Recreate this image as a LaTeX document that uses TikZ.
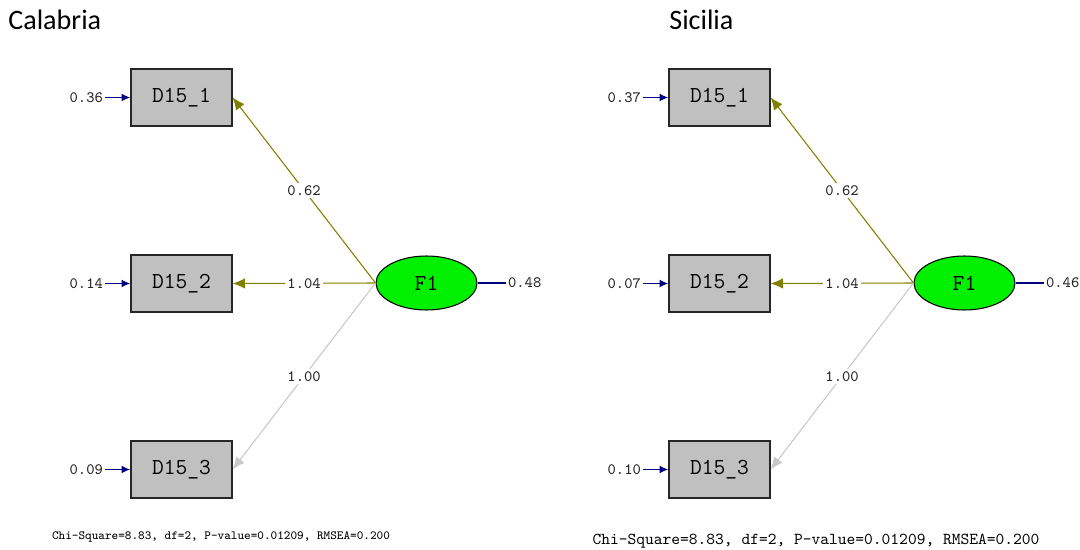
\documentclass[tikz,border=0pt]{standalone}
\usepackage{fontspec}
\setmainfont{Carlito}
\usetikzlibrary{arrows.meta,shapes.geometric}

\definecolor{obsgray}{RGB}{192,192,192}
\definecolor{latgreen}{RGB}{0,240,0}
\definecolor{loadolive}{RGB}{128,128,0}
\definecolor{fixgray}{RGB}{200,200,200}
\definecolor{errnavy}{RGB}{0,0,128}

\tikzset{
  obs/.style={draw=black!85, fill=obsgray, line width=0.8pt,
    minimum width=2.02cm, minimum height=1.14cm, inner sep=0pt,
    font=\ttfamily\fontsize{13}{14}\selectfont},
  lat/.style={ellipse, draw=black, fill=latgreen, line width=0.6pt,
    minimum width=2.02cm, minimum height=1.08cm, inner sep=0pt,
    font=\ttfamily\fontsize{13}{14}\selectfont},
  num/.style={inner sep=1pt, text=black!85, font=\ttfamily\fontsize{9}{10}\selectfont},
  coef/.style={num, fill=white, inner sep=1.5pt},
  errarrow/.style={errnavy, line width=0.8pt, -{Latex[length=5pt,width=4.5pt]}},
  load/.style={loadolive, line width=0.6pt, -{Latex[length=7pt,width=6pt]}},
  fixed/.style={fixgray, line width=0.6pt, -{Latex[length=7pt,width=6pt]}},
  region/.style={font=\fontsize{16}{18}\selectfont, anchor=west, inner sep=0pt},
}

\begin{document}
\begin{tikzpicture}[x=0.02cm, y=-0.02cm]
  \useasboundingbox (0,0) rectangle (1080,550);

  \foreach \reg/\dx/\tx/\eA/\eB/\eC/\vF/\cx/\cy/\cs in {
      Calabria/0/8/0.36/0.14/0.09/0.48/221/537/7.1,
      Sicilia/538/669/0.37/0.07/0.10/0.46/816/541/9.5}{
    \node[region] (\reg-t) at (\tx,20) {\reg};
    \begin{scope}[shift={(\dx,0)}]
      % indicators and factor
      \node[obs] (\reg-d1) at (181.5,97.5) {D15\_1};
      \node[obs] (\reg-d2) at (181.5,283.5) {D15\_2};
      \node[obs] (\reg-d3) at (181.5,469.5) {D15\_3};
      \node[lat] (\reg-f) at (426.5,283) {F1};

      % error variances
      \node[num, anchor=east] (\reg-e1) at (105,97.5) {\eA};
      \node[num, anchor=east] (\reg-e2) at (105,283.5) {\eB};
      \node[num, anchor=east] (\reg-e3) at (105,469.5) {\eC};
      \draw[errarrow] (\reg-e1) -- (\reg-d1);
      \draw[errarrow] (\reg-e2) -- (\reg-d2);
      \draw[errarrow] (\reg-e3) -- (\reg-d3);
      \node[num, anchor=west] (\reg-v) at (506,283) {\vF};
      \draw[errnavy, line width=0.7pt] (\reg-f) -- (\reg-v);

      % loadings
      \draw[load] (\reg-f.west) -- node[coef] {0.62} (\reg-d1.east);
      \draw[load] (\reg-f.west) -- node[coef] {1.04} (\reg-d2.east);
      \draw[fixed] (\reg-f.west) -- node[coef] {1.00} (\reg-d3.east);
    \end{scope}
    \node[font=\ttfamily\fontsize{\cs}{\cs}\selectfont] (\reg-fit) at (\cx,\cy)
      {Chi-Square=8.83, df=2, P-value=0.01209, RMSEA=0.200};
  }
\end{tikzpicture}
\end{document}
